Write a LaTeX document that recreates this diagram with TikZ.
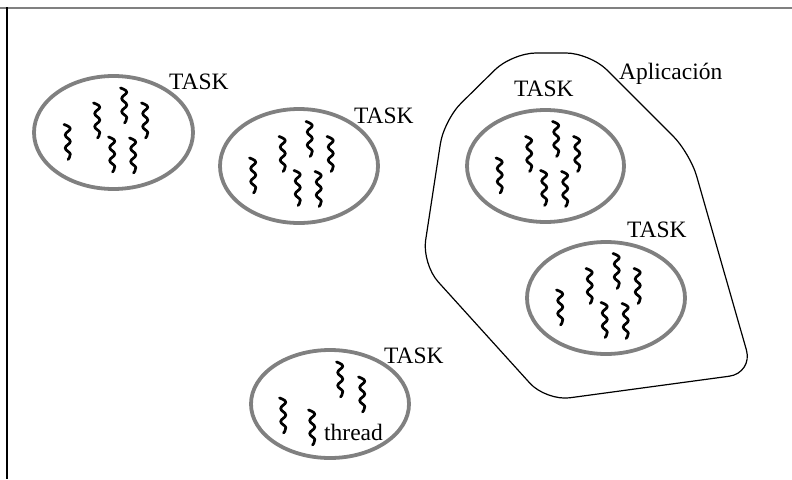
\documentclass[tikz,border=0pt]{standalone}
\usepackage{fontspec}
\setmainfont{Liberation Serif}
\usetikzlibrary{shapes.geometric,calc}
\definecolor{ringgray}{RGB}{128,128,128}
\tikzset{
  task/.style={draw=ringgray, line width=3.8pt, ellipse, inner sep=0pt},
  lbl/.style={inner sep=0pt, anchor=base west, font=\fontsize{23.5}{27}\selectfont},
  squig/.style={line width=2.7pt, line cap=round, line join=round},
  thr/.pic={\draw[squig] plot[smooth, tension=0.75] coordinates {(-3.5,0) (2.8,4) (-2.3,10.5) (2.8,17) (-2.3,23.5) (2.8,29.5) (0.5,35)};}
}
\newcommand{\sixthreads}[1]{%
  \pic at ($(#1)+(-46,-8)$) {thr};
  \pic at ($(#1)+(-16.5,-29.5)$) {thr};
  \pic at ($(#1)+(10.5,-44.5)$) {thr};
  \pic at ($(#1)+(31.5,-29.5)$) {thr};
  \pic at ($(#1)+(-1.5,4.5)$) {thr};
  \pic at ($(#1)+(19.5,5.5)$) {thr};
}
\begin{document}
\begin{tikzpicture}[x=1pt,y=-1pt]
\useasboundingbox (0,0) rectangle (792,479);
% frame lines
\draw[ringgray, line width=2pt] (0,7.5) -- (792,7.5);
\draw[black, line width=1.8pt] (7,7) -- (7,479);
% application outline
\coordinate (a1) at (512,53);
\coordinate (a2) at (590,53);
\coordinate (a3) at (690,153);
\coordinate (a4) at (753,373);
\coordinate (a5) at (546,401);
\coordinate (a6) at (422,264);
\coordinate (a7) at (444,120);
\draw[line width=1.2pt, rounded corners=24pt] (a1) -- (a2) -- (a3) -- (a4) -- (a5) -- (a6) -- (a7) -- cycle;
% tasks
\node[task, minimum width=159pt, minimum height=113pt] (t1) at (113.5,132.5) {};
\node[task, minimum width=158pt, minimum height=114pt] (t2) at (299,166) {};
\node[task, minimum width=157pt, minimum height=112pt] (t3) at (545.5,166) {};
\node[task, minimum width=158pt, minimum height=112pt] (t4) at (606,298) {};
\node[task, minimum width=158pt, minimum height=108pt] (t5) at (330,404) {};
\sixthreads{t1}
\sixthreads{t2}
\sixthreads{t3}
\sixthreads{t4}
\pic at ($(t5)+(-47,-6)$) {thr};
\pic at ($(t5)+(-18,6)$) {thr};
\pic at ($(t5)+(10,-42)$) {thr};
\pic at ($(t5)+(32,-27)$) {thr};
% labels
\node[lbl] (l1) at (169,89.5) {TASK};
\node[lbl] (l2) at (354,123) {TASK};
\node[lbl] (l3) at (514,96.7) {TASK};
\node[lbl] (l4) at (627,237) {TASK};
\node[lbl] (l5) at (384,363) {TASK};
\node[lbl] (lapp) at (619,79.5) {Aplicación};
\node[lbl] (lthr) at (324,440.7) {thread};
\end{tikzpicture}
\end{document}
